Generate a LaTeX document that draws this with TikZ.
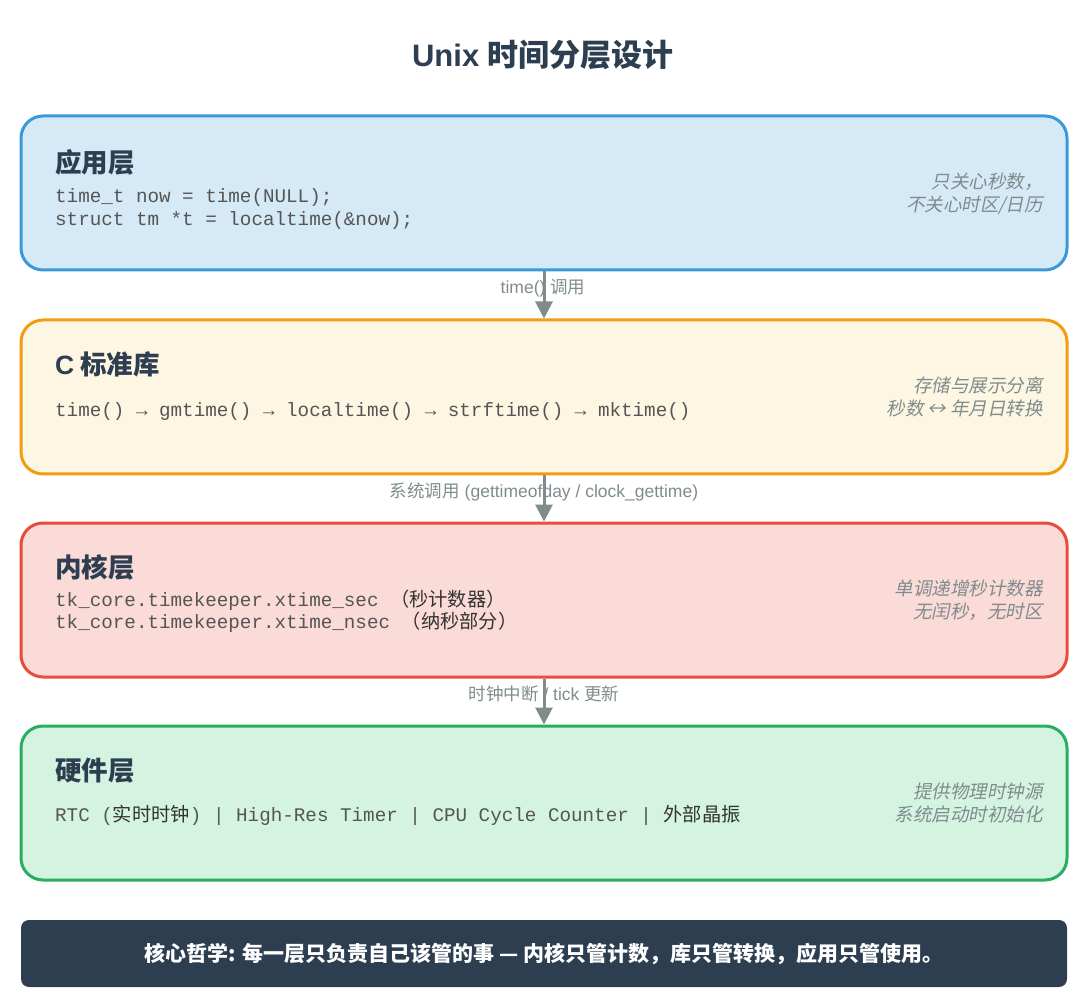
\documentclass[tikz,border=0pt]{standalone}
\usepackage{fontspec}
\setmainfont{Liberation Sans}
\setmonofont{Liberation Mono}
\newfontfamily\cjk{Noto Sans CJK SC}
\newfontfamily\cjkit{Noto Sans CJK SC}[FakeSlant=0.2]
\usetikzlibrary{arrows.meta}
\definecolor{titlec}{HTML}{2C3E50}
\definecolor{codec}{HTML}{555555}
\definecolor{codecjk}{HTML}{333333}
\definecolor{notec}{HTML}{7F8C8D}
\definecolor{bluedraw}{HTML}{3A9AD9}
\definecolor{bluefill}{HTML}{D6E9F7}
\definecolor{orgdraw}{HTML}{F39C12}
\definecolor{orgfill}{HTML}{FDF6E3}
\definecolor{reddraw}{HTML}{E74C3C}
\definecolor{redfill}{HTML}{FADBD8}
\definecolor{grndraw}{HTML}{27AE60}
\definecolor{grnfill}{HTML}{D4F3E1}
\tikzset{
  layer/.style={rounded corners=22pt, line width=3pt, minimum width=1046pt, minimum height=154pt, inner sep=0pt},
  heading/.style={anchor=west, font=\cjk\bfseries\fontsize{26.5}{30}\selectfont, text=titlec, inner sep=0pt},
  codeline/.style={anchor=west, font=\ttfamily\fontsize{19.25}{22}\selectfont, text=codec, inner sep=0pt},
  note/.style={anchor=east, align=right, font=\cjkit\fontsize{18.5}{23}\selectfont, text=notec, inner sep=0pt},
  lbl/.style={font=\fontsize{17.5}{20}\selectfont, text=notec, inner sep=0pt},
  conn/.style={draw=notec, line width=3pt, -{Triangle[length=17pt,width=17pt]}},
}
\newcommand{\cj}[1]{{\cjk\color{codecjk}#1}}
\begin{document}
\begin{tikzpicture}[x=1pt,y=-1pt]
\useasboundingbox (0,0) rectangle (1080,1000);
% title
\node[font=\bfseries\fontsize{31}{35}\selectfont, text=titlec] (title) at (543,55) {Unix {\cjk 时间分层设计}};
% boxes
\node[layer, draw=bluedraw, fill=bluefill] (app) at (544,193) {};
\node[layer, draw=orgdraw, fill=orgfill] (lib) at (544,397) {};
\node[layer, draw=reddraw, fill=redfill] (kern) at (544,600) {};
\node[layer, draw=grndraw, fill=grnfill] (hw) at (544,803) {};
% app layer
\node[heading] (apph) at (55,162) {应用层};
\node[codeline] (appc1) at (55,198) {time\_t now = time(NULL);};
\node[codeline] (appc2) at (55,221) {struct tm *t = localtime(\&now);};
\node[note] (appn) at (1043,194) {只关心秒数，\\不关心时区/日历};
% lib layer
\node[heading] (libh) at (55,364) {{\fontspec{Liberation Sans}\bfseries C} 标准库};
\node[codeline] (libc) at (55,412) {time() → gmtime() → localtime() → strftime() → mktime()};
\node[note] (libn) at (1043,397) {存储与展示分离\\秒数 ↔ 年月日转换};
% kernel layer
\node[heading] (kernh) at (55,567) {内核层};
\node[codeline] (kernc1) at (55,600) {tk\_core.timekeeper.xtime\_sec \cj{（秒计数器）}};
\node[codeline] (kernc2) at (55,622) {tk\_core.timekeeper.xtime\_nsec \cj{（纳秒部分）}};
\node[note] (kernn) at (1043,600) {单调递增秒计数器\\无闰秒，无时区};
% hardware layer
\node[heading] (hwh) at (55,771) {硬件层};
\node[codeline] (hwc) at (55,815) {RTC (\cj{实时时钟}) | High-Res Timer | CPU Cycle Counter | \cj{外部晶振}};
\node[note] (hwn) at (1043,803) {提供物理时钟源\\系统启动时初始化};
% connector labels
\node[lbl] (l1) at (543,288) {time() {\cjk 调用}};
\node[lbl] (l2) at (544,492) {{\cjk 系统调用} (gettimeofday / clock\_gettime)};
\node[lbl] (l3) at (544,694) {{\cjk 时钟中断} / tick {\cjk 更新}};
% connectors
\draw[conn] (app.south) -- (lib.north);
\draw[conn] (lib.south) -- (kern.north);
\draw[conn] (kern.south) -- (hw.north);
% bottom bar
\node[rounded corners=8pt, fill=titlec, minimum width=1046pt, minimum height=67pt, inner sep=0pt] (bar) at (544,953.5) {};
\node[font=\cjk\bfseries\fontsize{21}{24}\selectfont, text=white] (bart) at (bar.center) {核心哲学: 每一层只负责自己该管的事 — 内核只管计数，库只管转换，应用只管使用。};
\end{tikzpicture}
\end{document}
